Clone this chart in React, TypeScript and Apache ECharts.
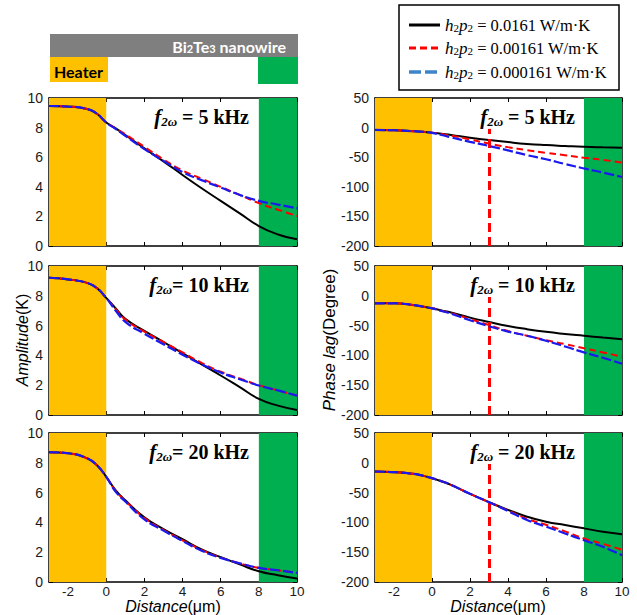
import React, { useEffect, useRef } from 'react';
import * as echarts from 'echarts';

// ---------- data ----------
const xs = [-3, -2, -1, -0.5, 0, 0.5, 1, 2, 3, 4, 5, 6, 7, 8, 9, 10];
const xTicks = [-2, 0, 2, 4, 6, 8, 10];
const ampTicks = [0, 2, 4, 6, 8, 10];
const phaseTicks = [-200, -150, -100, -50, 0, 50];
const freqs = ['5', '10', '20'];
const legendLabels = ['0.0161', '0.00161', '0.000161'];

const amp5Black = [9.46, 9.42, 9.26, 8.95, 8.35, 7.95, 7.5, 6.6, 5.72, 4.8, 3.9, 3.05, 2.2, 1.35, 0.78, 0.45];
const amp5Red = [9.46, 9.42, 9.26, 8.95, 8.35, 7.95, 7.55, 6.7, 5.85, 5.1, 4.55, 4.0, 3.45, 2.9, 2.45, 2.03];
const amp5Blue = [9.46, 9.42, 9.26, 8.95, 8.35, 7.9, 7.45, 6.55, 5.75, 5.0, 4.45, 3.95, 3.45, 3.05, 2.8, 2.55];

const amp10Black = [9.21, 9.1, 8.87, 8.53, 7.86, 7.15, 6.45, 5.65, 4.9, 4.15, 3.4, 2.65, 1.87, 1.08, 0.63, 0.34];
const amp10Red = [9.21, 9.1, 8.87, 8.53, 7.86, 7.1, 6.4, 5.6, 4.9, 4.2, 3.5, 2.9, 2.45, 2.0, 1.65, 1.3];
const amp10Blue = [9.21, 9.1, 8.87, 8.53, 7.86, 7.0, 6.25, 5.45, 4.75, 4.05, 3.4, 2.85, 2.4, 1.98, 1.65, 1.3];

const amp20Black = [8.71, 8.64, 8.3, 7.85, 7.06, 6.15, 5.48, 4.34, 3.55, 2.87, 2.19, 1.67, 1.18, 0.72, 0.45, 0.23];
const amp20Red = [8.71, 8.64, 8.3, 7.85, 7.06, 6.1, 5.45, 4.3, 3.5, 2.8, 2.15, 1.65, 1.25, 0.95, 0.79, 0.61];
const amp20Blue = [8.71, 8.64, 8.3, 7.85, 7.06, 6.05, 5.4, 4.2, 3.45, 2.75, 2.1, 1.62, 1.25, 0.95, 0.79, 0.61];

const ph5Black = [-4, -4.5, -6, -7, -8.5, -10.5, -12.5, -17, -21, -24.5, -27.5, -29.5, -31, -32.4, -33.3, -34];
const ph5Red = [-4, -4.5, -6, -7, -8.5, -11, -13.6, -20, -27, -33, -38, -42.6, -46.6, -51, -54.5, -59];
const ph5Blue = [-4, -4.5, -6, -7, -9, -12.5, -16.5, -24, -31, -38.5, -46.5, -53.5, -61.5, -69, -76, -83.5];

const ph10Black = [-12.6, -12.6, -15.4, -18, -21, -24.5, -28, -36.6, -43.9, -50.6, -56, -60.5, -64, -67, -70, -72.7];
const ph10Red = [-12.6, -12.6, -15.4, -18, -21, -25, -29, -39, -49, -59, -67, -74.5, -81, -88, -95, -102];
const ph10Blue = [-12.6, -12.6, -15.4, -18, -21, -25.5, -30, -41, -51, -60, -67, -75.5, -85, -95, -104, -114];

const ph20Black = [-14.6, -15.7, -18.5, -21.5, -25.8, -31, -37, -52, -66, -79, -90.4, -98.9, -104.5, -110, -115.7, -119.7];
const ph20Red = [-14.6, -15.7, -18.5, -21.5, -25.8, -31, -37, -52, -66, -80, -94, -104, -115, -127, -136, -146];
const ph20Blue = [-14.6, -15.7, -18.5, -21.5, -25.8, -31, -37, -52, -66, -81, -96, -107, -118.5, -130, -141, -155];

const heaterRange = [-3, 0];
const contactRange = [8, 10];
const markerX = 3;

// ---------- styles ----------
const serif = '"Liberation Serif", "Times New Roman", serif';
const sans = '"Liberation Sans", Arial, sans-serif';
const lato = 'Lato, "Open Sans", sans-serif';
const ORANGE = '#FFC000';
const GREEN = '#00B050';
const GRAY = '#7F7F7F';
const RED = '#FF0000';
const BLUE = '#1a1aee';
const LEGEND_BLUE = '#3d85c6';

const colLeft = [49, 375];
const colWidth = [248, 247];
const rowTop = [98, 266, 433];
const rowHeight = [148, 149, 149];
const annotRight = [251, 577];
const annotY = [117, 285, 452];

const panels = [
  { col: 0, row: 0, kind: 'amp', data: [amp5Black, amp5Red, amp5Blue], eq: ' = ' },
  { col: 0, row: 1, kind: 'amp', data: [amp10Black, amp10Red, amp10Blue], eq: '= ' },
  { col: 0, row: 2, kind: 'amp', data: [amp20Black, amp20Red, amp20Blue], eq: '= ' },
  { col: 1, row: 0, kind: 'phase', data: [ph5Black, ph5Red, ph5Blue], eq: ' = ' },
  { col: 1, row: 1, kind: 'phase', data: [ph10Black, ph10Red, ph10Blue], eq: ' = ' },
  { col: 1, row: 2, kind: 'phase', data: [ph20Black, ph20Red, ph20Blue], eq: ' = ' },
];

const toPairs = (ys: number[]) => xs.map((x, i) => [x, ys[i]]);

function buildOption() {
  const grid: any[] = [];
  const xAxis: any[] = [];
  const yAxis: any[] = [];
  const series: any[] = [];
  const graphic: any[] = [];
  const axisLine = { show: true, onZero: false, lineStyle: { color: '#000', width: 1.5 } };
  const tickStyle = { color: '#000', width: 1 };
  const labelStyle = { fontFamily: sans, fontSize: 14, color: '#1a1a1a' };

  panels.forEach((p, i) => {
    grid.push({
      left: colLeft[p.col],
      top: rowTop[p.row],
      width: colWidth[p.col],
      height: rowHeight[p.row],
    });
    const isAmp = p.kind === 'amp';
    const yTicks = isAmp ? ampTicks : phaseTicks;
    const yMin = isAmp ? 0 : -200;
    const yMax = isAmp ? 10 : 50;
    const yInt = isAmp ? 2 : 50;
    xAxis.push({
      gridIndex: i, type: 'value', min: -3, max: 10, position: 'bottom',
      axisLine, splitLine: { show: false },
      axisTick: { show: true, inside: true, length: 4, customValues: xTicks, lineStyle: tickStyle },
      axisLabel: { show: p.row === 2, customValues: xTicks, margin: 3, ...labelStyle, fontSize: 13.5, lineHeight: 13 },
    });
    xAxis.push({
      gridIndex: i, type: 'value', min: -3, max: 10, position: 'top',
      axisLine, splitLine: { show: false },
      axisTick: { show: true, inside: true, length: 4, customValues: xTicks, lineStyle: tickStyle },
      axisLabel: { show: false },
    });
    yAxis.push({
      gridIndex: i, type: 'value', min: yMin, max: yMax, interval: yInt, position: 'left',
      axisLine, splitLine: { show: false },
      axisTick: { show: true, inside: true, length: 4, lineStyle: tickStyle },
      axisLabel: { show: true, margin: 6, customValues: yTicks, ...labelStyle },
    });
    yAxis.push({
      gridIndex: i, type: 'value', min: yMin, max: yMax, interval: yInt, position: 'right',
      axisLine, splitLine: { show: false },
      axisTick: { show: true, inside: true, length: 4, lineStyle: tickStyle },
      axisLabel: { show: false },
    });

    const base = {
      type: 'line', xAxisIndex: i * 2, yAxisIndex: i * 2, showSymbol: false,
      smooth: 0.5, silent: true,
    };
    series.push({
      ...base, name: 'black', data: toPairs(p.data[0]),
      lineStyle: { color: '#000', width: 2 }, z: 3,
      markArea: {
        silent: true,
        data: [
          [{ xAxis: heaterRange[0], itemStyle: { color: ORANGE } }, { xAxis: heaterRange[1] }],
          [{ xAxis: contactRange[0], itemStyle: { color: GREEN } }, { xAxis: contactRange[1] }],
        ],
      },
    });
    series.push({
      ...base, name: 'red', data: toPairs(p.data[1]),
      lineStyle: { color: RED, width: 2, type: [7, 4] }, z: 4,
    });
    const blue: any = {
      ...base, name: 'blue', data: toPairs(p.data[2]),
      lineStyle: { color: BLUE, width: 2.2, type: [10, 3] }, z: 5,
    };
    if (!isAmp) {
      blue.markLine = {
        silent: true, symbol: ['none', 'none'], label: { show: false },
        lineStyle: { color: RED, width: 3, type: [9, 5] },
        data: [[{ coord: [markerX, -200] }, { coord: [markerX, -2] }]],
      };
    }
    series.push(blue);

    graphic.push({
      type: 'text', x: annotRight[p.col], y: annotY[p.row], z: 100,
      style: {
        text: `{f|f}{s|2ω}{n|${p.eq}${freqs[p.row]} kHz}`,
        align: 'right', verticalAlign: 'middle',
        backgroundColor: '#fff', padding: [1, 2, 1, 2],
        rich: {
          f: { fontFamily: serif, fontStyle: 'italic', fontWeight: 'bold', fontSize: 21, fill: '#000' },
          s: { fontFamily: serif, fontStyle: 'italic', fontWeight: 'bold', fontSize: 13, fill: '#000', verticalAlign: 'bottom', lineHeight: 14 },
          n: { fontFamily: serif, fontWeight: 'bold', fontSize: 20, fill: '#000' },
        },
      },
    });
  });

  // top schematic
  graphic.push({ type: 'rect', shape: { x: 50, y: 34, width: 248, height: 23 }, style: { fill: GRAY } });
  graphic.push({
    type: 'text', x: 286, y: 46,
    style: {
      text: '{b|Bi}{s|2}{b|Te}{s|3}{b| nanowire}', align: 'right', verticalAlign: 'middle',
      rich: {
        b: { fontFamily: lato, fontWeight: 'bold', fontSize: 16, fill: '#fff' },
        s: { fontFamily: lato, fontWeight: 'bold', fontSize: 11, fill: '#fff', verticalAlign: 'bottom', lineHeight: 10 },
      },
    },
  });
  graphic.push({ type: 'rect', shape: { x: 50, y: 57, width: 58, height: 25 }, style: { fill: ORANGE } });
  graphic.push({
    type: 'text', x: 54, y: 71,
    style: { text: 'Heater', fontFamily: lato, fontWeight: 'bold', fontSize: 16, fill: '#000', verticalAlign: 'middle' },
  });
  graphic.push({ type: 'rect', shape: { x: 258, y: 57, width: 40, height: 27 }, style: { fill: GREEN } });

  // legend
  graphic.push({ type: 'rect', shape: { x: 399, y: 5, width: 220, height: 85 }, style: { fill: '#fff', stroke: '#000', lineWidth: 1.5 }, z: 50 });
  const legendY = [25, 48, 72];
  const legendStyles = [
    { stroke: '#000', lineWidth: 3, lineDash: null as any },
    { stroke: RED, lineWidth: 3, lineDash: [7, 4] },
    { stroke: LEGEND_BLUE, lineWidth: 3.5, lineDash: [12, 4] },
  ];
  legendLabels.forEach((lab, k) => {
    graphic.push({
      type: 'line', z: 51, shape: { x1: 409, y1: legendY[k], x2: 440, y2: legendY[k] },
      style: { ...legendStyles[k] },
    });
    graphic.push({
      type: 'text', x: 445, y: legendY[k], z: 51,
      style: {
        text: `{i|h}{s|2}{i|p}{s|2}{n| = ${lab} W/m·K}`, verticalAlign: 'middle',
        rich: {
          i: { fontFamily: serif, fontStyle: 'italic', fontSize: 17, fill: '#000' },
          s: { fontFamily: serif, fontSize: 11, fill: '#000', verticalAlign: 'bottom', lineHeight: 10 },
          n: { fontFamily: serif, fontSize: 16.5, fill: '#000' },
        },
      },
    });
  });

  // axis titles
  graphic.push({
    type: 'text', x: 22, y: 340, rotation: Math.PI / 2,
    style: {
      text: '{i|Amplitude}{n|(K)}', align: 'center', verticalAlign: 'middle',
      rich: {
        i: { fontFamily: sans, fontStyle: 'italic', fontSize: 16, fill: '#000' },
        n: { fontFamily: sans, fontSize: 16, fill: '#000' },
      },
    },
  });
  graphic.push({
    type: 'text', x: 329, y: 340, rotation: Math.PI / 2,
    style: {
      text: '{i|Phase lag}{n|(Degree)}', align: 'center', verticalAlign: 'middle',
      rich: {
        i: { fontFamily: sans, fontStyle: 'italic', fontSize: 17, fill: '#000' },
        n: { fontFamily: sans, fontSize: 17, fill: '#000' },
      },
    },
  });
  [173, 498].forEach((cx) => {
    graphic.push({
      type: 'text', x: cx, y: 606,
      style: {
        text: '{i|Distance}{n|(μm)}', align: 'center', verticalAlign: 'middle',
        rich: {
          i: { fontFamily: sans, fontStyle: 'italic', fontSize: 16, fill: '#000', lineHeight: 16 },
          n: { fontFamily: sans, fontSize: 16, fill: '#000', lineHeight: 16 },
        },
      },
    });
  });

  return { animation: false, backgroundColor: '#fff', grid, xAxis, yAxis, series, graphic };
}

export default function App() {
  const ref = useRef<HTMLDivElement>(null);
  useEffect(() => {
    if (!ref.current) return;
    const chart = echarts.init(ref.current, undefined, { renderer: 'svg' });
    chart.setOption(buildOption() as any);
    return () => chart.dispose();
  }, []);
  return <div ref={ref} style={{ position: 'fixed', left: 0, top: 0, width: 637, height: 615, background: '#fff' }} />;
}
